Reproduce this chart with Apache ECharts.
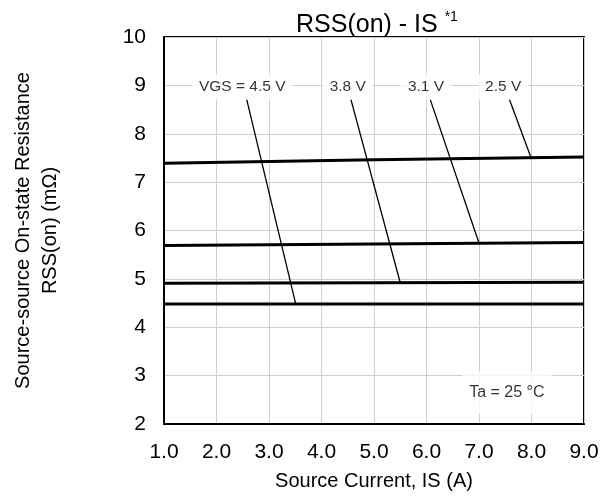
<!DOCTYPE html>
<html><head><meta charset="utf-8">
<script src="https://cdn.jsdelivr.net/npm/echarts@6/dist/echarts.min.js"></script>
<style>html,body{margin:0;padding:0;background:#fff}#c{width:606px;height:499px}</style>
</head><body><div id="c"></div>
<script>
// Curves: [IS (A), RSS(on) (mΩ)]
var curve45 = [[1, 4.48], [5, 4.48], [9, 4.48]];
var curve38 = [[1, 4.91], [5, 4.92], [9, 4.93]];
var curve31 = [[1, 5.69], [5, 5.72], [9, 5.75]];
var curve25 = [[1, 7.39], [5, 7.46], [9, 7.52]];
// Leader lines from label to curve
var lead45 = [[2.575, 8.71], [3.51, 4.48]];
var lead38 = [[4.56, 8.71], [5.50, 4.92]];
var lead31 = [[6.07, 8.71], [7.00, 5.74]];
var lead25 = [[7.58, 8.71], [7.99, 7.51]];
// Label positions and texts
var labelTexts = ['VGS = 4.5 V', '3.8 V', '3.1 V', '2.5 V'];
var labelPos = [[2.49, 8.97], [4.50, 8.97], [5.99, 8.97], [7.46, 8.97]];
var taText = 'Ta = 25 °C';
var taPos = [7.53, 2.65];
var xTicks = [1, 2, 3, 4, 5, 6, 7, 8, 9];

var FONT = 'Liberation Sans, Arial, sans-serif';
var chart = echarts.init(document.getElementById('c'));

function lineSeries(d, w) {
  return {type: 'line', data: d, symbol: 'none', silent: true, z: 3,
    lineStyle: {color: '#000', width: w}};
}
var labelData = labelTexts.map(function (t, i) { return {value: labelPos[i], name: t}; });

chart.setOption({
  animation: false,
  title: {
    text: 'RSS(on) - IS {s|*1}',
    left: 291, top: 5,
    textStyle: {fontFamily: FONT, fontSize: 25, fontWeight: 'normal', color: '#000',
      rich: {s: {fontFamily: FONT, fontSize: 14, color: '#000', verticalAlign: 'top', padding: [0, 0, 16, 0]}}}
  },
  grid: {left: 164, top: 37, width: 420, height: 387, show: true, borderColor: '#000', borderWidth: 2,
    backgroundColor: 'transparent', containLabel: false, outerBoundsMode: 'none'},
  xAxis: {
    type: 'value', min: 1, max: 9, interval: 1,
    name: 'Source Current, IS (A)', nameLocation: 'middle', nameGap: 47,
    nameTextStyle: {fontFamily: FONT, fontSize: 20, color: '#000'},
    axisLine: {show: true, lineStyle: {color: '#000', width: 2}},
    axisTick: {show: false},
    axisLabel: {fontFamily: FONT, fontSize: 21, color: '#000', margin: 18,
      formatter: function (v) { return v.toFixed(1); }},
    splitLine: {show: true, lineStyle: {color: '#cfcfcf', width: 1}}
  },
  yAxis: {
    type: 'value', min: 2, max: 10, interval: 1,
    name: 'Source-source On-state Resistance\nRSS(on) (mΩ)', nameLocation: 'middle', nameGap: 100, nameRotate: 90,
    nameTextStyle: {fontFamily: FONT, fontSize: 20, color: '#000', lineHeight: 27},
    axisLine: {show: true, lineStyle: {color: '#000', width: 2}},
    axisTick: {show: false},
    axisLabel: {fontFamily: FONT, fontSize: 21, color: '#000', margin: 18},
    splitLine: {show: true, lineStyle: {color: '#cfcfcf', width: 1}}
  },
  series: [
    lineSeries(curve45, 3), lineSeries(curve38, 3), lineSeries(curve31, 3), lineSeries(curve25, 3),
    lineSeries(lead45, 1.3), lineSeries(lead38, 1.3), lineSeries(lead31, 1.3), lineSeries(lead25, 1.3),
    {type: 'scatter', data: labelData, symbolSize: 0, silent: true, z: 5,
      label: {show: true, position: 'inside', formatter: function (p) { return p.name; },
        fontFamily: FONT, fontSize: 15.5, color: '#000', backgroundColor: '#fff', padding: [5, 7, 5, 7]}},
    {type: 'scatter', data: [{value: taPos, name: taText}], symbolSize: 0, silent: true, z: 5,
      label: {show: true, position: 'inside', formatter: function (p) { return p.name; },
        fontFamily: FONT, fontSize: 16, color: '#000', backgroundColor: '#fff', padding: [13, 7, 13, 7]}}
  ]
});
</script></body></html>
